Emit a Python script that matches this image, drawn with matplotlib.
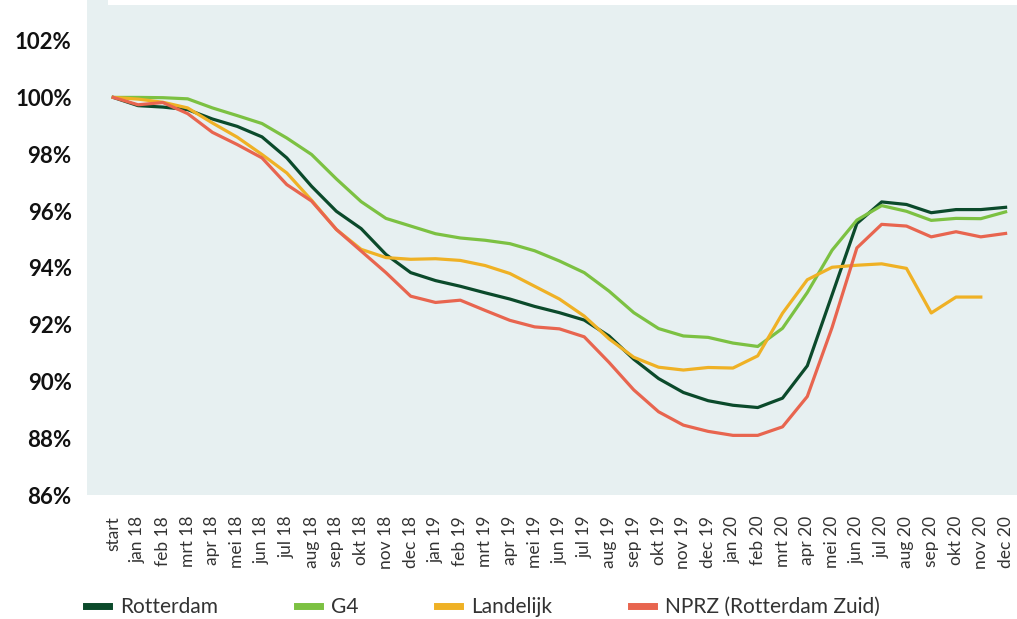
import numpy as np
import matplotlib.pyplot as plt
from matplotlib.patches import Rectangle

labels = ["start",
          "jan 18", "feb 18", "mrt 18", "apr 18", "mei 18", "jun 18",
          "jul 18", "aug 18", "sep 18", "okt 18", "nov 18", "dec 18",
          "jan 19", "feb 19", "mrt 19", "apr 19", "mei 19", "jun 19",
          "jul 19", "aug 19", "sep 19", "okt 19", "nov 19", "dec 19",
          "jan 20", "feb 20", "mrt 20", "apr 20", "mei 20", "jun 20",
          "jul 20", "aug 20", "sep 20", "okt 20", "nov 20", "dec 20"]

rotterdam = [100.0, 99.71, 99.66, 99.57, 99.24, 98.98, 98.61, 97.87, 96.87, 95.99,
             95.38, 94.47, 93.83, 93.55, 93.35, 93.12, 92.9, 92.64, 92.42, 92.16,
             91.6, 90.78, 90.1, 89.61, 89.32, 89.16, 89.08, 89.41, 90.55, 93.05,
             95.56, 96.32, 96.23, 95.94, 96.05, 96.05, 96.13]
g4 = [100.0, 100.0, 99.99, 99.95, 99.63, 99.36, 99.08, 98.57, 97.99, 97.13,
      96.33, 95.74, 95.47, 95.2, 95.05, 94.97, 94.85, 94.6, 94.24, 93.83,
      93.18, 92.42, 91.86, 91.6, 91.55, 91.35, 91.23, 91.87, 93.13, 94.62,
      95.68, 96.19, 95.99, 95.67, 95.74, 95.73, 95.97]
landelijk = [100.0, 99.94, 99.83, 99.63, 99.1, 98.6, 97.99, 97.34, 96.38, 95.35,
             94.65, 94.36, 94.3, 94.32, 94.26, 94.08, 93.8, 93.35, 92.9, 92.3,
             91.5, 90.85, 90.5, 90.4, 90.49, 90.47, 90.9, 92.4, 93.58, 94.02,
             94.09, 94.14, 93.98, 92.41, 92.97, 92.97, np.nan]
nprz = [100.0, 99.74, 99.82, 99.43, 98.77, 98.34, 97.87, 96.93, 96.35, 95.35,
        94.59, 93.83, 93.0, 92.78, 92.86, 92.5, 92.15, 91.92, 91.85, 91.57,
        90.67, 89.7, 88.93, 88.46, 88.24, 88.1, 88.1, 88.4, 89.47, 91.9,
        94.7, 95.53, 95.47, 95.09, 95.27, 95.09, 95.21]

series = [("Rotterdam", rotterdam, "#0b4a2b"),
          ("G4", g4, "#7cc142"),
          ("Landelijk", landelijk, "#efb125"),
          ("NPRZ (Rotterdam Zuid)", nprz, "#e8654f")]

W, H = 1017, 619
fig = plt.figure(figsize=(W / 100, H / 100), dpi=100)
ax = fig.add_axes([87 / W, 1 - 495 / H, 1 - 87 / W, 495 / H])
ax.set_facecolor("#e7f0f1")

x = np.arange(len(labels))
for name, vals, col in series:
    ax.plot(x, vals, color=col, lw=2.3, label=name)

ax.set_xlim(-1.06, 36.46)
ax.set_ylim(86, 103.43)
yt = [86, 88, 90, 92, 94, 96, 98, 100, 102]
ax.set_yticks(yt)
ax.set_yticklabels([f"{v}%" for v in yt], fontfamily="Lato", fontweight="bold",
                   fontsize=16, color="#111111")
ax.set_xticks(x)
ax.set_xticklabels(labels, rotation=90, fontfamily="Lato", fontsize=12.5,
                   color="#333333", va="top", ha="center")
ax.tick_params(axis="y", length=0, pad=11)
ax.tick_params(axis="x", length=0, pad=15)
for s in ax.spines.values():
    s.set_visible(False)

# witte strook bovenaan
fig.patches.append(Rectangle((108 / W, 1 - 5 / H), 1, 5 / H, transform=fig.transFigure,
                             facecolor="white", edgecolor="none", zorder=5))

leg = fig.legend(loc="center left", bbox_to_anchor=(86 / W, 1 - 607 / H), ncol=4,
                 frameon=False, borderpad=0, borderaxespad=0, handlelength=1.1,
                 handletextpad=0.56, columnspacing=3.75,
                 prop={"family": "Lato", "size": 15})
for h in leg.get_lines():
    h.set_linewidth(5)
for t in leg.get_texts():
    t.set_color("#333333")

fig.savefig("out.png", dpi=100)
